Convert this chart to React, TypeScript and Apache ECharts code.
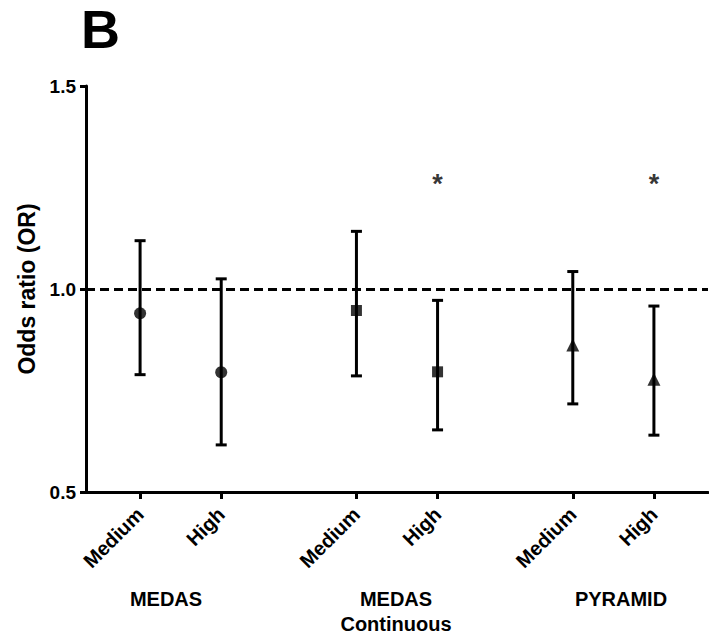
import React, { useEffect, useRef } from 'react';
import * as echarts from 'echarts';

// Positions on the x axis (in category steps) of each estimate
const positions = [0, 3, 8, 11, 16, 19];
const axisStart = -2;
const axisEnd = 21;
const levelLabels = ['Medium', 'High', 'Medium', 'High', 'Medium', 'High'];
const orValues = [0.94, 0.795, 0.947, 0.796, 0.862, 0.778];
const lowerCI = [0.789, 0.616, 0.786, 0.653, 0.717, 0.64];
const upperCI = [1.119, 1.025, 1.142, 0.972, 1.043, 0.958];
const markerSymbols = ['circle', 'circle', 'rect', 'rect', 'triangle', 'triangle'];
const significant = [false, false, false, true, false, true];
const starLevel = 1.258;
const groupNames = ['MEDAS', 'MEDAS\nContinuous', 'PYRAMID'];
const groupCenters = [166, 396, 621];
const yMin = 0.5;
const yMax = 1.5;
const yInterval = 0.5;
const referenceOR = 1.0;

const FONT = '"Liberation Sans", Arial, sans-serif';

export default function App() {
  const ref = useRef<HTMLDivElement>(null);
  useEffect(() => {
    document.body.style.margin = '0';
    if (!ref.current) return;
    const chart = echarts.init(ref.current, null, { renderer: 'svg' });
    const cats: string[] = [];
    for (let p = axisStart; p <= axisEnd; p++) {
      const k = positions.indexOf(p);
      cats.push(k >= 0 ? levelLabels[k] : '');
    }
    const idx = (k: number) => positions[k] - axisStart;
    const barData = positions.map((_, k) => [idx(k), lowerCI[k], upperCI[k]]);
    const pointData = positions.map((_, k) => ({
      value: [idx(k), orValues[k]],
      symbol: markerSymbols[k],
      symbolSize: markerSymbols[k] === 'circle' ? 12 : markerSymbols[k] === 'rect' ? 11 : 13,
    }));
    const starData = positions
      .map((_, k) => (significant[k] ? [idx(k), starLevel] : null))
      .filter((d) => d !== null);

    chart.setOption({
      animation: false,
      textStyle: { fontFamily: FONT },
      grid: { left: 86, right: 1, top: 86, bottom: 144, containLabel: false },
      xAxis: {
        type: 'category',
        data: cats,
        boundaryGap: false,
        axisLine: { lineStyle: { color: '#000', width: 3 } },
        axisTick: {
          interval: (i: number, v: string) => v !== '',
          length: 7,
          lineStyle: { color: '#000', width: 3 },
        },
        axisLabel: {
          interval: (i: number, v: string) => v !== '',
          rotate: 45,
          margin: 19,
          color: '#000',
          fontWeight: 'bold',
          fontSize: 20,
          fontFamily: FONT,
        },
        splitLine: { show: false },
      },
      yAxis: {
        type: 'value',
        min: yMin,
        max: yMax,
        interval: yInterval,
        name: 'Odds ratio (OR)',
        nameLocation: 'middle',
        nameGap: 46,
        nameTextStyle: { color: '#000', fontWeight: 'bold', fontSize: 23, fontFamily: FONT },
        axisLine: { show: true, lineStyle: { color: '#000', width: 3 } },
        axisTick: { show: true, length: 6, lineStyle: { color: '#000', width: 3 } },
        axisLabel: {
          color: '#000',
          fontWeight: 'bold',
          fontSize: 19,
          margin: 10,
          fontFamily: FONT,
          formatter: (v: number) => v.toFixed(1),
        },
        splitLine: { show: false },
      },
      series: [
        {
          type: 'custom',
          data: barData,
          encode: { x: 0, y: [1, 2] },
          renderItem: (params: any, api: any) => {
            const x = api.value(0);
            const lo = api.coord([x, api.value(1)]);
            const hi = api.coord([x, api.value(2)]);
            const cap = 5.5;
            const style = { stroke: '#000', lineWidth: 3 };
            return {
              type: 'group',
              children: [
                { type: 'line', shape: { x1: lo[0], y1: lo[1], x2: hi[0], y2: hi[1] }, style },
                { type: 'line', shape: { x1: lo[0] - cap, y1: lo[1], x2: lo[0] + cap, y2: lo[1] }, style },
                { type: 'line', shape: { x1: hi[0] - cap, y1: hi[1], x2: hi[0] + cap, y2: hi[1] }, style },
              ],
            };
          },
          z: 2,
        },
        {
          type: 'scatter',
          data: pointData,
          itemStyle: { color: '#000' },
          z: 3,
          markLine: {
            silent: true,
            symbol: ['none', 'none'],
            label: { show: false },
            lineStyle: { color: '#000', width: 3, type: [9, 5] },
            data: [{ yAxis: referenceOR }],
          },
        },
        {
          type: 'scatter',
          data: starData,
          symbolSize: 1,
          itemStyle: { color: 'rgba(0,0,0,0)' },
          label: {
            show: true,
            formatter: '*',
            position: 'inside',
            color: '#000',
            fontSize: 27,
            fontWeight: 'bold',
            fontFamily: FONT,
          },
        },
      ],
      graphic: [
        {
          type: 'text',
          left: 81,
          top: 2,
          style: { text: 'B', font: `bold 54px ${FONT}`, fill: '#000' },
        },
        ...groupNames.map((g, i) => ({
          type: 'text',
          x: groupCenters[i],
          y: 586,
          style: {
            text: g,
            font: `bold 20px ${FONT}`,
            fill: '#000',
            align: 'center',
            verticalAlign: 'top',
            lineHeight: 25,
          },
        })),
      ],
    });
    return () => chart.dispose();
  }, []);
  return (
    <div
      ref={ref}
      style={{ position: 'absolute', left: 0, top: 0, width: 709, height: 636 }}
    />
  );
}
